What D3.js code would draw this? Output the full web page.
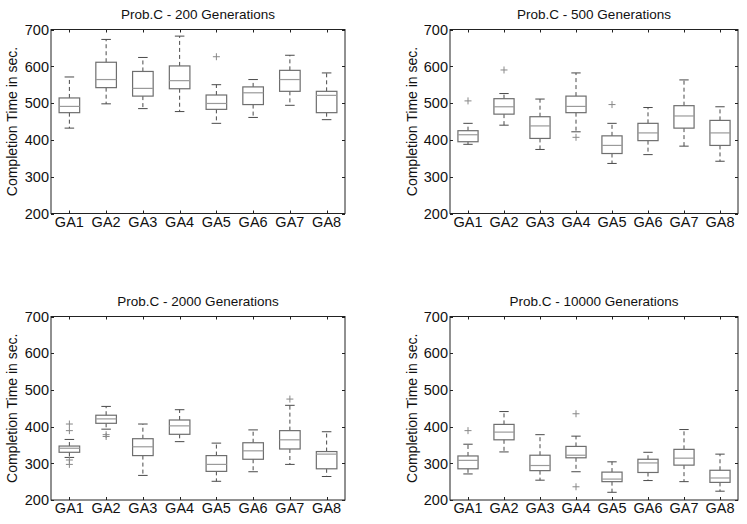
<!DOCTYPE html>
<html>
<head>
<meta charset="utf-8">
<script src="https://cdn.jsdelivr.net/npm/d3@7"></script>
<style>
  html, body { margin: 0; padding: 0; background: #fff; }
  svg { display: block; font-family: "Liberation Sans", Arial, sans-serif; }
</style>
</head>
<body>
<svg id="chart" width="747" height="524"></svg>
<script>
// ---- data ----
const categories = ["GA1", "GA2", "GA3", "GA4", "GA5", "GA6", "GA7", "GA8"];
const yTicks = [200, 300, 400, 500, 600, 700];
const titles = ["Prob.C - 200 Generations", "Prob.C - 500 Generations",
                "Prob.C - 2000 Generations", "Prob.C - 10000 Generations"];
const yLabel = "Completion Time in sec.";

const g200_low  = [432, 498, 485, 477, 445, 461, 494, 455];
const g200_q1   = [474, 542, 519, 539, 483, 496, 532, 474];
const g200_med  = [491, 564, 540, 561, 499, 528, 564, 521];
const g200_q3   = [514, 611, 586, 601, 522, 544, 589, 532];
const g200_high = [571, 673, 624, 682, 550, 564, 630, 582];
const g200_out  = [[], [], [], [], [626], [], [], []];

const g500_low  = [388, 440, 374, 422, 336, 360, 383, 342];
const g500_q1   = [395, 470, 404, 474, 363, 398, 432, 385];
const g500_med  = [414, 490, 438, 491, 385, 419, 465, 419];
const g500_q3   = [425, 512, 463, 519, 411, 445, 493, 453];
const g500_high = [445, 526, 511, 582, 445, 488, 563, 490];
const g500_out  = [[506], [590], [], [407], [496], [], [], []];

const g2000_low  = [316, 393, 267, 359, 251, 277, 297, 264];
const g2000_q1   = [330, 409, 321, 379, 278, 311, 339, 285];
const g2000_med  = [341, 421, 345, 402, 297, 334, 364, 325];
const g2000_q3   = [347, 431, 367, 418, 321, 356, 389, 332];
const g2000_high = [365, 455, 407, 446, 355, 391, 458, 386];
const g2000_out  = [[407, 389, 309, 297], [378, 373], [], [], [], [], [475], []];

const g10000_low  = [271, 331, 254, 277, 221, 253, 250, 224];
const g10000_q1   = [285, 364, 280, 315, 250, 275, 295, 248];
const g10000_med  = [308, 385, 294, 322, 257, 301, 314, 260];
const g10000_q3   = [320, 406, 322, 346, 276, 311, 338, 281];
const g10000_high = [352, 441, 378, 374, 304, 330, 392, 325];
const g10000_out  = [[389], [], [], [435, 236], [], [], [], []];

// ---- build panel tables ----
function build(low, q1, med, q3, high, out) {
  return categories.map((c, i) => ({cat: c, low: low[i], q1: q1[i], med: med[i], q3: q3[i], high: high[i], out: out[i]}));
}
const panelsData = [
  build(g200_low, g200_q1, g200_med, g200_q3, g200_high, g200_out),
  build(g500_low, g500_q1, g500_med, g500_q3, g500_high, g500_out),
  build(g2000_low, g2000_q1, g2000_med, g2000_q3, g2000_high, g2000_out),
  build(g10000_low, g10000_q1, g10000_med, g10000_q3, g10000_high, g10000_out)
];

// ---- layout ----
const frames = [
  {x0: 51, x1: 345, y0: 29.5, y1: 213.5, labelX: 12},
  {x0: 450, x1: 738, y0: 29.5, y1: 213.5, labelX: 412},
  {x0: 51, x1: 345, y0: 316.5, y1: 500, labelX: 12},
  {x0: 450, x1: 738, y0: 316.5, y1: 500, labelX: 412}
];

const svg = d3.select("#chart");
const boxColor = "#6e6e6e";
const medColor = "#9a9a9a";
const whiskColor = "#4a4a4a";

panelsData.forEach((data, pi) => {
  const f = frames[pi];
  const x = d3.scaleLinear().domain([0.5, categories.length + 0.5]).range([f.x0, f.x1]);
  const y = d3.scaleLinear().domain([200, 700]).range([f.y1, f.y0]);
  const unit = x(1) - x(0);
  const bw = unit * 0.56;
  const cw = unit * 0.26;
  const g = svg.append("g");

  // frame
  g.append("rect")
    .attr("x", f.x0).attr("y", f.y0)
    .attr("width", f.x1 - f.x0).attr("height", f.y1 - f.y0)
    .attr("fill", "none").attr("stroke", "#222").attr("stroke-width", 1);

  // y ticks (inside, both sides)
  yTicks.forEach(t => {
    const yy = Math.round(y(t)) + 0.5;
    g.append("line").attr("x1", f.x0).attr("x2", f.x0 + 3).attr("y1", yy).attr("y2", yy)
      .attr("stroke", "#222");
    g.append("line").attr("x1", f.x1).attr("x2", f.x1 - 3).attr("y1", yy).attr("y2", yy)
      .attr("stroke", "#222");
    g.append("text").attr("x", f.x0 - 2).attr("y", y(t)).attr("dy", "0.36em")
      .attr("text-anchor", "end").attr("font-size", 14.5).attr("fill", "#111").text(t);
  });

  // x ticks (inside, top and bottom)
  categories.forEach((c, i) => {
    const xx = Math.round(x(i + 1)) + 0.5;
    g.append("line").attr("x1", xx).attr("x2", xx).attr("y1", f.y1).attr("y2", f.y1 - 3)
      .attr("stroke", "#222");
    g.append("line").attr("x1", xx).attr("x2", xx).attr("y1", f.y0).attr("y2", f.y0 + 3)
      .attr("stroke", "#222");
    g.append("text").attr("x", x(i + 1)).attr("y", f.y1 + 13)
      .attr("text-anchor", "middle").attr("font-size", 14.5).attr("fill", "#111").text(c);
  });

  // title
  g.append("text").attr("x", (f.x0 + f.x1) / 2).attr("y", f.y0 - 11)
    .attr("text-anchor", "middle").attr("font-size", 13.5).attr("fill", "#111").text(titles[pi]);

  // y label
  g.append("text")
    .attr("transform", `translate(${f.labelX + 5},${(f.y0 + f.y1) / 2}) rotate(-90)`)
    .attr("text-anchor", "middle").attr("font-size", 14).attr("fill", "#111").text(yLabel);

  // boxes
  const b = g.selectAll(".box").data(data).join("g").attr("class", "box");
  b.append("line")
    .attr("x1", (d, i) => x(i + 1)).attr("x2", (d, i) => x(i + 1))
    .attr("y1", d => y(d.q3)).attr("y2", d => y(d.high))
    .attr("stroke", whiskColor).attr("stroke-dasharray", "4,3");
  b.append("line")
    .attr("x1", (d, i) => x(i + 1)).attr("x2", (d, i) => x(i + 1))
    .attr("y1", d => y(d.q1)).attr("y2", d => y(d.low))
    .attr("stroke", whiskColor).attr("stroke-dasharray", "4,3");
  b.append("line")
    .attr("x1", (d, i) => x(i + 1) - cw / 2).attr("x2", (d, i) => x(i + 1) + cw / 2)
    .attr("y1", d => y(d.high)).attr("y2", d => y(d.high))
    .attr("stroke", whiskColor);
  b.append("line")
    .attr("x1", (d, i) => x(i + 1) - cw / 2).attr("x2", (d, i) => x(i + 1) + cw / 2)
    .attr("y1", d => y(d.low)).attr("y2", d => y(d.low))
    .attr("stroke", whiskColor);
  b.append("rect")
    .attr("x", (d, i) => x(i + 1) - bw / 2).attr("width", bw)
    .attr("y", d => y(d.q3)).attr("height", d => y(d.q1) - y(d.q3))
    .attr("fill", "none").attr("stroke", boxColor).attr("stroke-width", 1.2);
  b.append("line")
    .attr("x1", (d, i) => x(i + 1) - bw / 2).attr("x2", (d, i) => x(i + 1) + bw / 2)
    .attr("y1", d => y(d.med)).attr("y2", d => y(d.med))
    .attr("stroke", medColor).attr("stroke-width", 1.2);

  // outliers
  data.forEach((d, i) => {
    d.out.forEach(v => {
      const cx = x(i + 1), cy = y(v);
      g.append("path")
        .attr("d", `M${cx - 3.5},${cy}H${cx + 3.5}M${cx},${cy - 3.5}V${cy + 3.5}`)
        .attr("stroke", "#888").attr("stroke-width", 1);
    });
  });
});
</script>
</body>
</html>
